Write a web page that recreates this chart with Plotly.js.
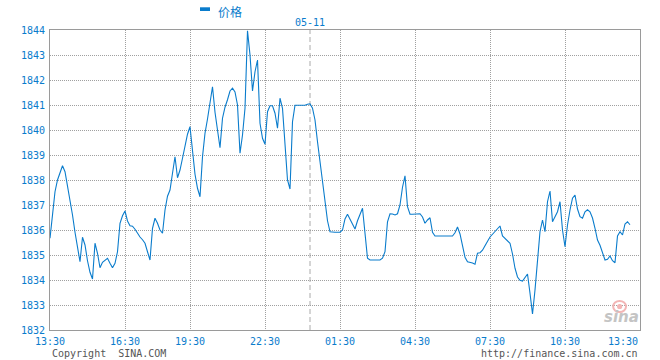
<!DOCTYPE html>
<html>
<head>
<meta charset="utf-8">
<script src="https://cdn.plot.ly/plotly-3.0.1.min.js"></script>
<style>html,body{margin:0;padding:0;background:#fff;}#chart{width:660px;height:360px;}</style>
</head>
<body>
<div id="chart"></div>
<script>
// Price samples, one per slot along the session (slot 0 = 13:30, slot 236 = 13:30 next day)
const prices = [
1835.67,1836.67,1837.53,1838.0,1838.31,1838.57,1838.33,1837.8,1837.2,1836.6,
1835.91,1835.24,1834.73,1835.71,1835.4,1834.77,1834.31,1834.04,1835.47,1835.07,
1834.49,1834.71,1834.81,1834.87,1834.67,1834.49,1834.67,1835.13,1836.27,1836.57,
1836.76,1836.36,1836.17,1836.15,1836.03,1835.85,1835.72,1835.61,1835.47,1835.13,
1834.8,1836.07,1836.47,1836.27,1836.0,1835.87,1836.8,1837.35,1837.6,1838.27,
1838.93,1838.09,1838.4,1838.87,1839.33,1839.83,1840.13,1839.07,1838.23,1837.67,
1837.33,1838.93,1839.87,1840.44,1841.16,1841.73,1840.71,1839.93,1839.29,1840.47,
1840.91,1841.21,1841.56,1841.67,1841.52,1841.0,1839.07,1839.8,1840.87,1843.97,
1843.0,1841.56,1842.33,1842.8,1840.27,1839.67,1839.43,1840.73,1840.97,1840.97,
1840.67,1840.07,1841.27,1840.87,1839.2,1838.0,1837.64,1840.33,1840.99,1840.99,
1840.99,1840.99,1840.99,1841.03,1841.05,1840.87,1840.4,1839.53,1838.76,1838.0,
1837.0,1836.37,1835.93,1835.91,1835.91,1835.91,1835.91,1836.0,1836.44,1836.63,
1836.41,1836.2,1836.04,1836.37,1836.64,1836.87,1835.87,1834.87,1834.8,1834.8,
1834.8,1834.8,1834.8,1834.87,1835.13,1836.33,1836.65,1836.64,1836.6,1836.65,
1837.0,1837.71,1838.17,1836.93,1836.63,1836.63,1836.63,1836.63,1836.65,1836.52,
1836.27,1836.4,1836.49,1835.91,1835.76,1835.76,1835.76,1835.76,1835.76,1835.76,
1835.76,1835.76,1835.89,1836.12,1835.84,1835.43,1834.91,1834.73,1834.72,1834.68,
1834.63,1835.07,1835.09,1835.19,1835.37,1835.55,1835.72,1835.83,1835.93,1836.05,
1836.16,1835.76,1835.67,1835.6,1835.47,1835.04,1834.47,1834.12,1833.99,1833.96,
1834.09,1834.24,1833.47,1832.64,1833.6,1834.8,1835.93,1836.4,1835.93,1837.13,
1837.56,1836.33,1836.53,1836.73,1837.13,1836.0,1835.33,1836.2,1836.8,1837.27,
1837.4,1836.84,1836.53,1836.47,1836.73,1836.81,1836.73,1836.48,1836.07,1835.6,
1835.39,1835.13,1834.8,1834.83,1834.96,1834.77,1834.69,1835.76,1835.93,1835.8,
1836.24,1836.33,1836.21
];
const timeLabels = ["13:30","16:30","19:30","22:30","01:30","04:30","07:30","10:30","13:30"];
const timeSlots  = [0,30,56,86,116,146,176,206,236];
const dateLabel = "05-11";
const dateSlot = 104;
const seriesName = "价格";
const yMin = 1832, yMax = 1844;

const slots = prices.map((_, i) => i);
const blue = '#0a7ccc';
const mono = 'DejaVu Sans Mono, Liberation Mono, monospace';

const trace = {
  x: slots, y: prices, type: 'scatter', mode: 'lines',
  line: {color: blue, width: 1.1, shape: 'linear'},
  hoverinfo: 'none', showlegend: false
};

const axisCommon = {
  showline: true, linecolor: '#9a9a9a', linewidth: 1, mirror: true,
  showgrid: true, gridcolor: '#a0a0a0', gridwidth: 1, griddash: '1px,1px',
  zeroline: false, ticks: '', fixedrange: true,
  tickfont: {family: mono, size: 10, color: blue}
};

const layout = {
  width: 660, height: 360,
  margin: {l: 50, r: 20, t: 30, b: 30, pad: 0},
  paper_bgcolor: '#ffffff', plot_bgcolor: '#ffffff',
  showlegend: false,
  xaxis: Object.assign({}, axisCommon, {
    range: [timeSlots[0], timeSlots[timeSlots.length - 1]],
    tickmode: 'array',
    tickvals: timeSlots.slice(0, -1),
    ticktext: timeLabels.slice(0, -1),
    ticklabelstandoff: 2
  }),
  yaxis: Object.assign({}, axisCommon, {
    range: [yMin, yMax], tick0: yMin, dtick: 1,
    ticklabelstandoff: 2
  }),
  shapes: [
    {type: 'line', xref: 'x', yref: 'paper', x0: dateSlot, x1: dateSlot, y0: 0, y1: 1,
     line: {color: '#aaaaaa', width: 1, dash: '5px,3px'}, layer: 'below'},
    {type: 'rect', xref: 'paper', yref: 'paper', x0: 0.2542, x1: 0.2712, y0: 1.0633, y1: 1.0757,
     fillcolor: blue, line: {width: 0}},
    {type: 'circle', xref: 'paper', yref: 'paper', x0: 0.9545, x1: 0.9763, y0: 0.06, y1: 0.0967,
     line: {color: '#f3b5b5', width: 2}, fillcolor: 'rgba(0,0,0,0)', layer: 'above'},
    {type: 'circle', xref: 'paper', yref: 'paper', x0: 0.9610, x1: 0.9700, y0: 0.070, y1: 0.087,
     line: {width: 0}, fillcolor: '#f3b5b5', layer: 'above'}
  ],
  annotations: [
    {xref: 'paper', yref: 'paper', x: 0.2814, y: 1.061, xanchor: 'left', yanchor: 'middle',
     text: seriesName, showarrow: false,
     font: {family: 'Noto Sans CJK SC, sans-serif', size: 12, color: blue}},
    {xref: 'x', yref: 'paper', x: dateSlot, y: 1.026, xanchor: 'center', yanchor: 'middle',
     text: dateLabel, showarrow: false, font: {family: mono, size: 10, color: blue}},
    {xref: 'x', yref: 'paper', x: timeSlots[timeSlots.length - 1], y: -0.037, xanchor: 'right', yanchor: 'middle',
     text: timeLabels[timeLabels.length - 1], showarrow: false, font: {family: mono, size: 10, color: blue}},
    {xref: 'paper', yref: 'paper', x: 0, y: -0.077, xanchor: 'left', yanchor: 'middle',
     text: 'Copyright  SINA.COM', showarrow: false, font: {family: mono, size: 10, color: '#555555'}},
    {xref: 'paper', yref: 'paper', x: 1, y: -0.077, xanchor: 'right', yanchor: 'middle',
     text: 'http://finance.sina.com.cn', showarrow: false, font: {family: mono, size: 10, color: '#555555'}},
    {xref: 'paper', yref: 'paper', x: 0.9686, y: 0.045, xanchor: 'center', yanchor: 'middle',
     text: '<b><i>sina</i></b>', showarrow: false, font: {family: 'DejaVu Sans, sans-serif', size: 15, color: '#c4c4c4'}}
  ]
};

Plotly.newPlot('chart', [trace], layout, {displayModeBar: false, staticPlot: true});
</script>
</body>
</html>
